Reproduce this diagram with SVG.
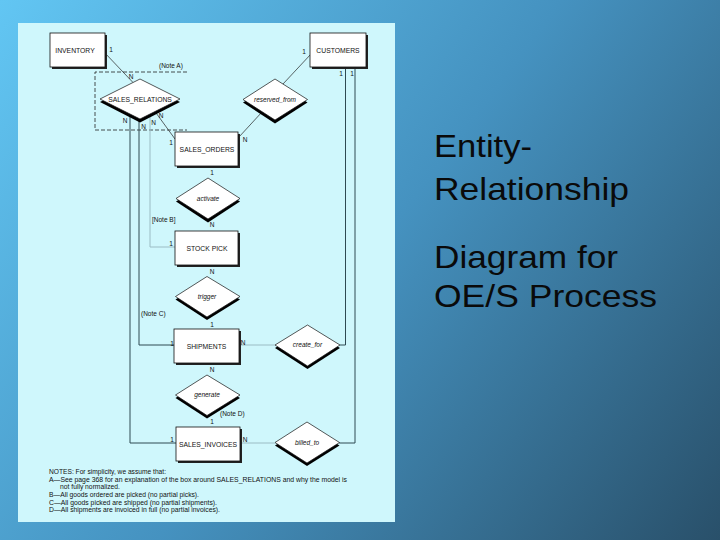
<svg xmlns="http://www.w3.org/2000/svg" width="720" height="540" viewBox="0 0 720 540">
<defs>
<linearGradient id="bg" gradientUnits="userSpaceOnUse" x1="0" y1="0" x2="720" y2="540">
<stop offset="0" stop-color="#62c6f3"/>
<stop offset="0.5" stop-color="#4592c0"/>
<stop offset="1" stop-color="#29506a"/>
</linearGradient>
<style>
.ent{fill:#fff;stroke:#111;stroke-width:0.8}
.sh{fill:#222}
.dia{fill:#fff;stroke:#111;stroke-width:0.7}
.dsh{fill:#000}
.et{font-family:"Liberation Sans",Arial,sans-serif;font-size:6.8px;fill:#111;text-anchor:middle}
.rt{font-family:"Liberation Sans",Arial,sans-serif;font-size:6.5px;font-style:italic;fill:#111;text-anchor:middle}
.lb{font-family:"Liberation Sans",Arial,sans-serif;font-size:6.5px;fill:#111;text-anchor:middle}
.nt{font-family:"Liberation Sans",Arial,sans-serif;font-size:6.5px;fill:#111}
.dk{stroke:#2e4a52;stroke-width:1;fill:none}
.lt{stroke:#9bbcc4;stroke-width:1;fill:none}
.dg{stroke:#222;stroke-width:0.7;fill:none}
.ds{stroke:#222;stroke-width:0.8;fill:none;stroke-dasharray:4,2}
.ttl{font-family:"Liberation Sans",Arial,sans-serif;font-size:32px;fill:#0a0a0a}
</style>
</defs>
<rect x="0" y="0" width="720" height="540" fill="url(#bg)"/>
<rect x="18" y="23" width="377" height="499" fill="#cff7fc"/>

<g id="connectors">
<path class="ds" d="M187,72 H95 V130 H187"/>
<line class="dg" x1="104" y1="52" x2="133" y2="82.5"/>
<line class="dg" x1="311" y1="54" x2="283" y2="84"/>
<line class="dg" x1="262" y1="112" x2="239" y2="137"/>
<line class="dg" x1="155" y1="111.5" x2="175" y2="139"/>
<path class="dk" d="M130,114 V443 H176"/>
<path class="dk" d="M139,119 V345 H174"/>
<path class="lt" d="M150,114 V247 H175"/>
<path class="dk" d="M345.5,67 V345 H340"/>
<path class="dk" d="M355,67 V443 H339"/>
<line class="lt" x1="239" y1="345" x2="275" y2="345"/>
<line class="lt" x1="240" y1="443" x2="275" y2="443"/>
</g>

<g id="inventory"><rect class="sh" x="52" y="35" width="55" height="34"/><rect class="ent" x="50" y="33" width="55" height="34"/><text class="et" x="75" y="52.5">INVENTORY</text></g>
<g id="customers"><rect class="sh" x="312" y="35" width="56" height="34"/><rect class="ent" x="310" y="33" width="56" height="34"/><text class="et" x="338" y="52.5">CUSTOMERS</text></g>
<g id="sales_orders"><rect class="sh" x="177" y="134" width="63" height="34"/><rect class="ent" x="175" y="132" width="63" height="34"/><text class="et" x="207" y="151.5">SALES_ORDERS</text></g>
<g id="stock_pick"><rect class="sh" x="177" y="233" width="63" height="34"/><rect class="ent" x="175" y="231" width="63" height="34"/><text class="et" x="207" y="250.5">STOCK PICK</text></g>
<g id="shipments"><rect class="sh" x="176" y="331" width="65" height="34"/><rect class="ent" x="174" y="329" width="65" height="34"/><text class="et" x="206.5" y="348.5">SHIPMENTS</text></g>
<g id="sales_invoices"><rect class="sh" x="178" y="429" width="64" height="34"/><rect class="ent" x="176" y="427" width="64" height="34"/><text class="et" x="208" y="446.5">SALES_INVOICES</text></g>

<g id="sales_relations"><polygon class="dsh" points="140,82 180,102 140,122.5 100,102"/><polygon class="dia" points="140,79 180,99 140,119 100,99"/><text class="et" x="140" y="101.5" font-size="6.7">SALES_RELATIONS</text></g>
<g id="reserved_from"><polygon class="dsh" points="275,82 307.5,102.5 275,123.5 243,102.5"/><polygon class="dia" points="275,79 307.5,99.5 275,120 243,99.5"/><text class="rt" x="275" y="101.5">reserved_from</text></g>
<g id="activate"><polygon class="dsh" points="208,181 240,201.5 208,222.5 176,201.5"/><polygon class="dia" points="208,178 240,198.5 208,219 176,198.5"/><text class="rt" x="208" y="201">activate</text></g>
<g id="trigger"><polygon class="dsh" points="207,279.5 240,299.5 207,320 175.5,299.5"/><polygon class="dia" points="207,276.5 240,296.5 207,317 175.5,296.5"/><text class="rt" x="207" y="298.5">trigger</text></g>
<g id="create_for"><polygon class="dsh" points="307.5,328 340,348 307.5,369 275,348"/><polygon class="dia" points="307.5,325 340,345 307.5,366 275,345"/><text class="rt" x="307.5" y="347">create_for</text></g>
<g id="generate"><polygon class="dsh" points="207,378 240,398 207,418.5 175.5,398"/><polygon class="dia" points="207,375 240,395 207,415.5 175.5,395"/><text class="rt" x="207" y="397">generate</text></g>
<g id="billed_to"><polygon class="dsh" points="307,425 339.5,445.5 307,466 275,445.5"/><polygon class="dia" points="307,422 339.5,442.5 307,463 275,442.5"/><text class="rt" x="307" y="444.5">billed_to</text></g>

<g id="labels">
<text class="lb" x="111" y="52">1</text>
<text class="lb" x="131" y="79">N</text>
<text class="nt" x="159" y="67.5">(Note A)</text>
<text class="lb" x="304" y="53.5">1</text>
<text class="lb" x="341" y="76">1</text>
<text class="lb" x="352" y="76">1</text>
<text class="lb" x="125" y="123">N</text>
<text class="lb" x="143.5" y="128.5">N</text>
<text class="lb" x="153.5" y="124.5">N</text>
<text class="lb" x="161" y="117.5">N</text>
<text class="lb" x="171" y="145">1</text>
<text class="lb" x="245" y="141.5">N</text>
<text class="lb" x="212" y="174.5">1</text>
<text class="lb" x="212" y="227">N</text>
<text class="nt" x="152" y="221.5">[Note B]</text>
<text class="lb" x="171" y="245.5">1</text>
<text class="lb" x="212" y="273.5">N</text>
<text class="nt" x="141" y="315.5">(Note C)</text>
<text class="lb" x="212" y="326.5">1</text>
<text class="lb" x="172" y="345.5">1</text>
<text class="lb" x="243" y="344.5">N</text>
<text class="lb" x="212" y="371.5">N</text>
<text class="nt" x="220" y="415.5">(Note D)</text>
<text class="lb" x="212" y="423.5">1</text>
<text class="lb" x="172" y="441.5">1</text>
<text class="lb" x="245" y="441.5">N</text>
</g>

<g id="notes">
<text class="nt" x="49" y="474" textLength="117" lengthAdjust="spacingAndGlyphs">NOTES: For simplicity, we assume that:</text>
<text class="nt" x="49" y="481.5" textLength="298" lengthAdjust="spacingAndGlyphs">A—See page 368 for an explanation of the box around SALES_RELATIONS and why the model is</text>
<text class="nt" x="60" y="489" textLength="60" lengthAdjust="spacingAndGlyphs">not fully normalized.</text>
<text class="nt" x="49" y="497" textLength="150" lengthAdjust="spacingAndGlyphs">B—All goods ordered are picked (no partial picks).</text>
<text class="nt" x="49" y="504.5" textLength="168" lengthAdjust="spacingAndGlyphs">C—All goods picked are shipped (no partial shipments).</text>
<text class="nt" x="49" y="512" textLength="171" lengthAdjust="spacingAndGlyphs">D—All shipments are invoiced in full (no partial invoices).</text>
</g>

<g id="title">
<text class="ttl" x="434" y="157" textLength="98" lengthAdjust="spacingAndGlyphs">Entity-</text>
<text class="ttl" x="434" y="200" textLength="195" lengthAdjust="spacingAndGlyphs">Relationship</text>
<text class="ttl" x="434" y="268" textLength="184" lengthAdjust="spacingAndGlyphs">Diagram for</text>
<text class="ttl" x="434" y="307" textLength="223" lengthAdjust="spacingAndGlyphs">OE/S Process</text>
</g>
</svg>
